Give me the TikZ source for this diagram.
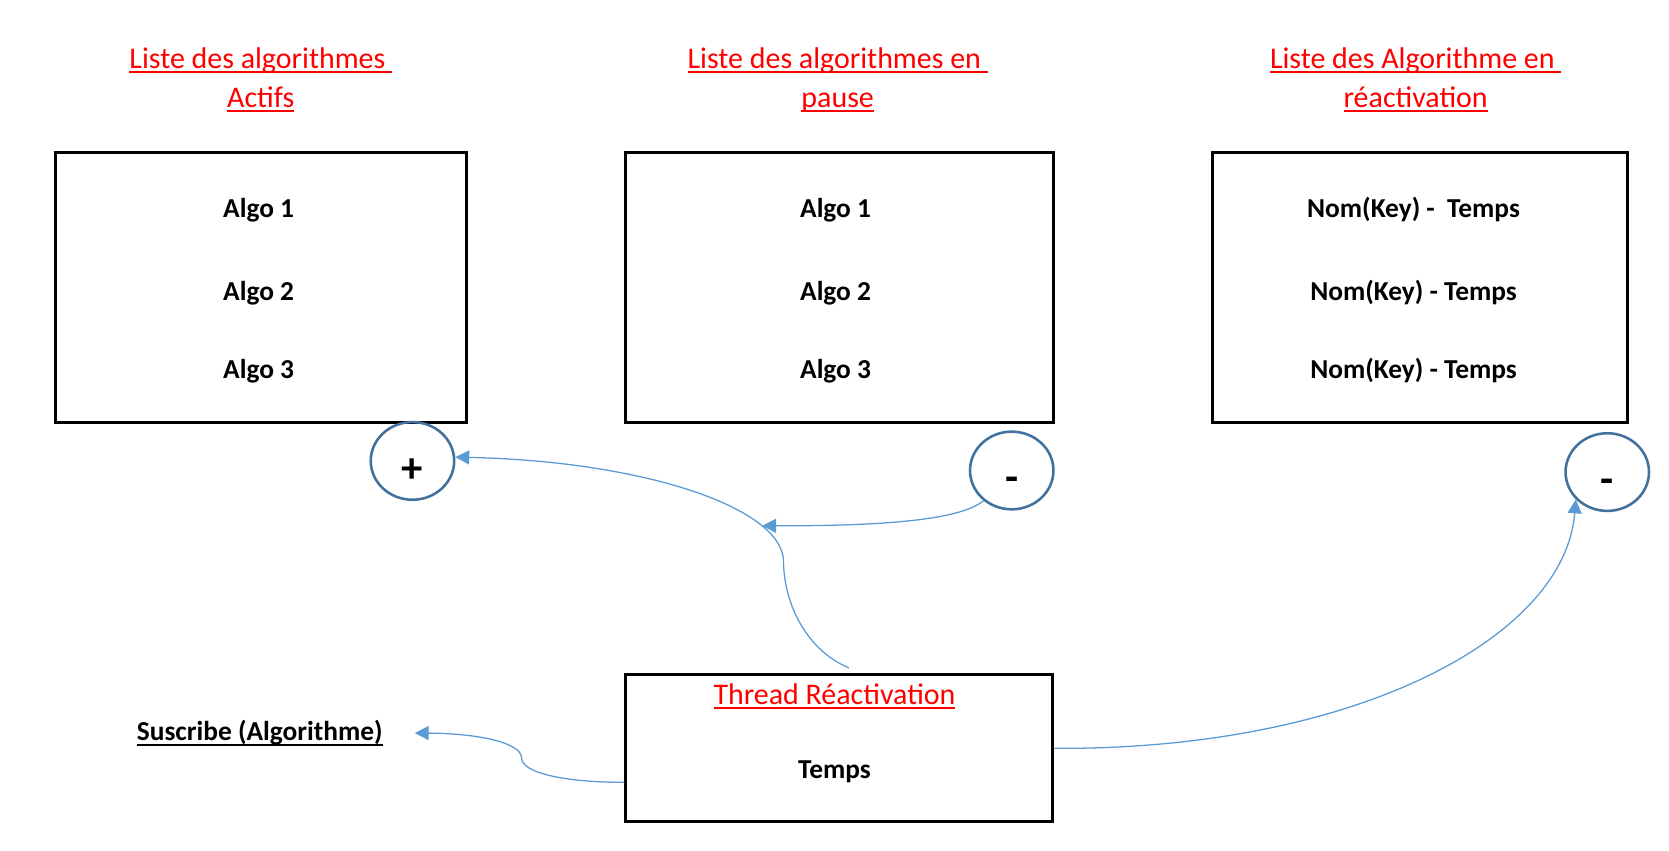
\documentclass[tikz,border=0pt]{standalone}
\usepackage{fontspec}
\setmainfont{Carlito}
\usetikzlibrary{shapes,arrows}
\usetikzlibrary{arrows.meta}
\definecolor{connblue}{HTML}{5B9BD5}
\definecolor{ringblue}{HTML}{41719C}
\newcommand\undl[1]{\setbox0\hbox{#1}\rlap{\rule[-2.2pt]{\wd0}{0.9pt}}\box0}
\tikzstyle{line} = [draw, connblue, line width=0.6pt, -{Triangle[length=6.5pt, width=6.5pt]}]
\tikzstyle{listbox} = [draw, line width=1.5pt, minimum height=126.4pt, inner sep=0pt]
\tikzstyle{title} = [align=center, text=red, font=\fontsize{14}{18.2}\selectfont, anchor=base]
\tikzstyle{item} = [font=\fontsize{12.8}{15}\selectfont\bfseries, anchor=base]
\tikzstyle{sign} = [ellipse, draw=ringblue, line width=1.2pt, minimum width=39pt, minimum height=36.3pt, inner sep=0pt, font=\fontsize{20}{20}\selectfont\bfseries, text height=20pt, text depth=0pt]

\begin{document}
\begin{tikzpicture}[x=0.4975pt, y=-0.4975pt]
    \useasboundingbox (0,0) rectangle (1568,798.6);

    \node[title] (tact) at (245,101) {\undl{Liste des algorithmes\ }\\\undl{Actifs}};
    \node[title] (tpause) at (787,101) {\undl{Liste des algorithmes en\ }\\\undl{pause}};
    \node[title] (treac) at (1330,101) {\undl{Liste des Algorithme en\ }\\\undl{réactivation}};

    \node[listbox, minimum width=192pt] (actifs) at (245,270) {};
    \node[listbox, minimum width=200pt] (pause) at (789,270) {};
    \node[listbox, minimum width=194pt] (reac) at (1334,270) {};

    \node[item] (a1) at (243,204) {Algo 1};
    \node[item] (a2) at (243,282) {Algo 2};
    \node[item] (a3) at (243,356) {Algo 3};
    \node[item] (p1) at (785,204) {Algo 1};
    \node[item] (p2) at (785,282) {Algo 2};
    \node[item] (p3) at (785,356) {Algo 3};
    \node[item] (r1) at (1328,204) {Nom(Key) -\ \ Temps};
    \node[item] (r2) at (1328,282) {Nom(Key) - Temps};
    \node[item] (r3) at (1328,356) {Nom(Key) - Temps};

    \node[sign] (plus) at (387.5,433) {+};
    \node[sign] (mneg) at (950.5,442) {-};
    \node[sign] (rneg) at (1510,443.5) {-};

    \node[draw, line width=1.5pt, minimum width=199.5pt, minimum height=68.7pt] (thread) at (788.5,703) {};
    \node[title] (ttitle) at (784,662) {\undl{Thread Réactivation}};
    \node[item] (ttemps) at (784,731) {Temps};
    \node[item] (sub) at (244,696) {\undl{Suscribe (Algorithme)}};

    \coordinate (join) at (716,494);

    \path [line] ([xshift=4.5pt,yshift=2.5pt]thread.north) .. controls (760,612) and (736,570) .. (736,525)
        .. controls (731,475) and (600,433) .. (plus.5);
    \path [line] (mneg.227) .. controls (900,490) and (820,494) .. (join);
    \path [line] (thread.east) .. controls (1270,705) and (1470,600) .. (rneg.221);
    \path [line] (thread.189) .. controls (530,735) and (490,726) .. (490,712)
        .. controls (490,698) and (450,689) .. ([xshift=11.5pt]sub.east);

  \end{tikzpicture}
\end{document}
